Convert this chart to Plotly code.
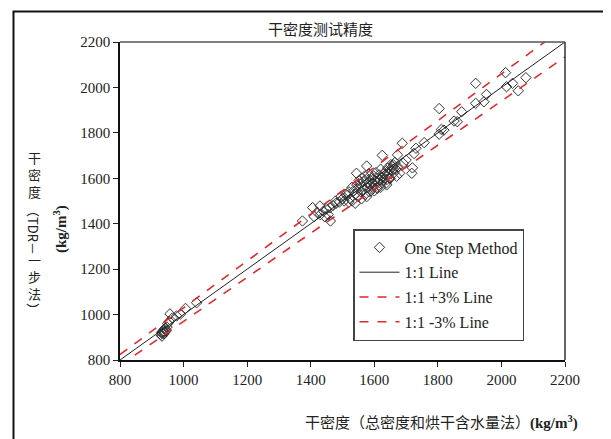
import plotly.graph_objects as go

# Data: (measured dry density by total density + oven-dry moisture, TDR one-step dry density)
x_oven = [928, 930, 932, 935, 936, 938, 940, 942, 945, 948, 933, 939, 950, 955, 957, 965, 978, 990, 1006, 1041,
          1374, 1406, 1411, 1429, 1430, 1462, 1420, 1440, 1445, 1450, 1455, 1460, 1470, 1480, 1478, 1490, 1500, 1495,
          1505, 1510, 1515, 1520, 1525, 1530, 1535, 1540, 1545, 1548, 1550, 1552, 1555, 1558, 1560, 1562, 1565, 1568,
          1570, 1572, 1575, 1576, 1578, 1580, 1582, 1585, 1588, 1590, 1592, 1595, 1598, 1600, 1602, 1605, 1608, 1610,
          1612, 1615, 1618, 1620, 1622, 1625, 1628, 1630, 1632, 1635, 1638, 1639, 1640, 1642, 1645, 1648, 1650, 1652,
          1655, 1658, 1660, 1662, 1665, 1668, 1670, 1673, 1680, 1688, 1691, 1700, 1718, 1720, 1725, 1731, 1544, 1576,
          1625, 1560, 1540, 1520, 1530, 1585, 1600, 1610, 1595, 1620, 1650, 1640, 1660, 1675,
          1757, 1804, 1811, 1819, 1804, 1851, 1861, 1875, 1919, 1919, 1945, 1953, 2013, 2016, 2035, 2053, 2077]
y_tdr = [912, 920, 905, 925, 930, 915, 935, 940, 928, 945, 918, 922, 960, 970, 1003, 985, 994, 1002, 1027, 1052,
         1412, 1471, 1431, 1478, 1440, 1412, 1450, 1455, 1430, 1465, 1440, 1470, 1480, 1490, 1500, 1495, 1510, 1520,
         1500, 1530, 1525, 1540, 1510, 1560, 1545, 1530, 1570, 1555, 1520, 1590, 1575, 1540, 1600, 1565, 1585, 1550,
         1610, 1530, 1595, 1519, 1578, 1560, 1620, 1575, 1590, 1545, 1600, 1580, 1610, 1570, 1590, 1625, 1560, 1600,
         1585, 1615, 1595, 1640, 1575, 1605, 1590, 1620, 1600, 1630, 1580, 1571, 1610, 1645, 1620, 1600, 1640, 1660,
         1630, 1650, 1659, 1625, 1670, 1640, 1609, 1703, 1622, 1754, 1666, 1680, 1622, 1646, 1709, 1732, 1622, 1654,
         1701, 1510, 1490, 1495, 1500, 1540, 1545, 1555, 1560, 1560, 1600, 1595, 1640, 1650,
         1757, 1794, 1815, 1812, 1907, 1852, 1849, 1893, 1930, 2018, 1937, 1969, 2065, 2003, 2018, 1985, 2043]

line_x = [800, 2200]
plus_pct = 0.03
minus_pct = -0.03
axis_ticks = [800, 1000, 1200, 1400, 1600, 1800, 2000, 2200]

title_text = "干密度测试精度"
x_title_cn = "干密度（总密度和烘干含水量法）"
unit_text = "(kg/m<sup>3</sup>)"

RED = "#e02a2e"
SERIF = "Liberation Serif"
CJK = "Noto Sans CJK SC"

fig = go.Figure()
fig.add_trace(go.Scatter(x=x_oven, y=y_tdr, mode="markers", name="One Step Method",
                         marker=dict(symbol="diamond-open", size=8, color="#333333", line=dict(width=1)),
                         legendgroup="a"))
fig.add_trace(go.Scatter(x=line_x, y=line_x, mode="lines", name="1:1 Line",
                         line=dict(color="#222222", width=1), legendgroup="b"))
fig.add_trace(go.Scatter(x=line_x, y=[v * (1 + plus_pct) for v in line_x], mode="lines", name="1:1 +3% Line",
                         line=dict(color=RED, width=1.6, dash="dash"), legendgroup="c"))
fig.add_trace(go.Scatter(x=line_x, y=[v * (1 + minus_pct) for v in line_x], mode="lines", name="1:1 -3% Line",
                         line=dict(color=RED, width=1.6, dash="dash"), legendgroup="d"))

# page offset (browser body margin) compensation
OFF = 8
L, R, T, B = 120, 565, 42, 360
W, H = 611 - OFF, 439 - OFF


def px(xp):
    return (xp - L) / (R - L)


def py(yp):
    return (B - yp) / (B - T)


axis_common = dict(range=[800, 2200], tickvals=axis_ticks, ticks="outside", ticklen=5, tickwidth=1,
                   tickcolor="#222", showline=True, linecolor="#111", linewidth=1.5, mirror=False,
                   showgrid=False, zeroline=False,
                   tickfont=dict(family=SERIF, size=15, color="#222"))
fig.update_xaxes(**axis_common)
fig.update_yaxes(**axis_common)

annotations = [
    dict(text=title_text, x=px(320), y=py(28), font=dict(family=CJK, size=15, color="#222")),
    dict(text=x_title_cn + "<span style='font-family:Liberation Serif'><b>" + unit_text + "</b></span>",
         x=px(441), y=py(421), font=dict(family=CJK, size=15, color="#222")),
    dict(text="<b>" + unit_text + "</b>", x=px(60), y=py(229), textangle=-90,
         font=dict(family=SERIF, size=15, color="#222")),
]
# vertical Y title: stacked upright CJK groups and rotated Latin/bracket parts
vparts = [("干<br>密<br>度", 174, 0), ("（TDR－", 229, 90), ("一<br>步<br>法", 276, 0), ("）", 309, 90)]
for txt, yy, ang in vparts:
    annotations.append(dict(text=txt, x=px(34), y=py(yy), textangle=ang,
                            font=dict(family=CJK, size=13, color="#222")))
for a in annotations:
    a.update(xref="paper", yref="paper", showarrow=False, xanchor="center", yanchor="middle", borderpad=0)

shapes = [
    dict(type="line", xref="paper", yref="paper", x0=0, x1=1, y0=1, y1=1, line=dict(color="#555", width=1.5)),
    dict(type="line", xref="paper", yref="paper", x0=1, x1=1, y0=0, y1=1, line=dict(color="#333", width=1.5)),
    dict(type="rect", xref="paper", yref="paper", x0=px(13.5), x1=px(606.5), y0=py(470), y1=py(11.5),
         line=dict(color="#111", width=2)),
]

fig.update_layout(
    width=W, height=H,
    margin=dict(l=L - OFF, r=611 - R, t=T - OFF, b=439 - B),
    paper_bgcolor="white", plot_bgcolor="white",
    showlegend=True,
    legend=dict(x=px(353), y=py(229), xanchor="left", yanchor="top",
                bgcolor="white", bordercolor="#444", borderwidth=1.5,
                font=dict(family=SERIF, size=16, color="#222"),
                tracegroupgap=1, itemwidth=40),
    annotations=annotations,
    shapes=shapes,
)

fig.write_html("out.html")
